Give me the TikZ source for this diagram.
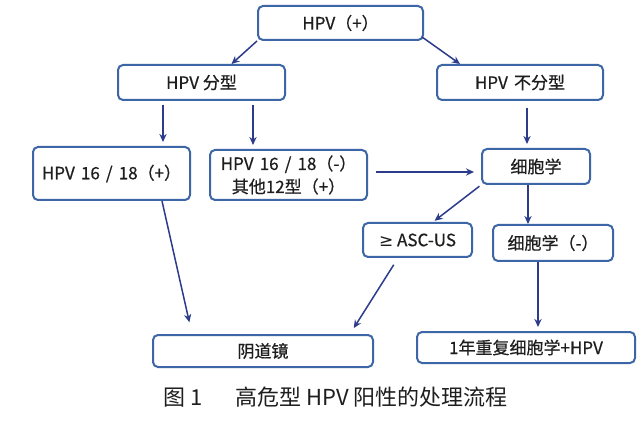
\documentclass[tikz,border=0pt]{standalone}
\usepackage{fontspec}
\setmainfont{Noto Sans CJK SC}
\newfontfamily\boxfont[FakeBold=0.6]{Noto Sans CJK SC}
\newfontfamily\mathsym{DejaVu Sans}
\usetikzlibrary{arrows.meta}
\definecolor{flowedge}{HTML}{3C66A6}
\definecolor{flowarrow}{HTML}{2C3B8A}
\definecolor{flowink}{HTML}{1E1E1E}
\newcommand{\stepnode}[5]{%
  \node[flowbox,minimum width=#3,minimum height=#4] (#1) at (#2) {#5};
}
\newcommand{\gap}{\hspace{.36em}}
\tikzset{
  flowbox/.style={draw=flowedge,line width=1pt,rounded corners=2.5pt,fill=white,
    text=flowink,inner sep=0pt,align=center,font=\boxfont\fontsize{8.5}{11.5}\selectfont},
  link/.style={draw=flowarrow,line width=.75pt,-{Stealth[length=4pt,width=3.6pt]}}
}

\begin{document}
\begin{tikzpicture}[x=.5pt,y=-.5pt]
        \useasboundingbox[fill=white] (0,0) rectangle (640,421);
        \stepnode{top}{340.5,23}{82.5pt}{17pt}{HPV（+）}
        \stepnode{typed}{201.5,82.5}{83.5pt}{17.5pt}{HPV 分型}
        \stepnode{untyped}{520,82.5}{83pt}{17.5pt}{HPV\gap 不分型}
        \stepnode{pos}{111.5,173.5}{78.5pt}{26.5pt}{HPV\gap 16\gap /\gap 18（+）}
        \stepnode{neg}{288.5,175}{78.5pt}{25pt}{HPV\gap 16\gap /\gap 18（-）\\其他12型（+）}
        \stepnode{cyto}{536,166.5}{54pt}{17.5pt}{细胞学}
        \stepnode{asc}{417.5,240}{54.5pt}{17pt}{{\mathsym ≥} ASC-US}
        \stepnode{cytoneg}{553,243}{60pt}{18pt}{细胞学（-）}
        \stepnode{colpo}{263,351}{110pt}{16pt}{阴道镜}
        \stepnode{repeat}{526,347.5}{109pt}{15.5pt}{1年重复细胞学+HPV}
        \node[font=\fontsize{11}{13}\selectfont,text=flowink] (caption) at (335.5,397)
          {图 1\hspace{1.5em}高危型 HPV 阳性的处理流程};
        % arrows between the steps
        \draw[link] (top.south west) -- ([xshift=15pt]typed.north);
        \draw[link] ([xshift=-1pt,yshift=2pt]top.south east) -- ([xshift=-30pt]untyped.north);
        \draw[link,shorten <=2pt,shorten >=2pt] ([xshift=-19.25pt]typed.south) -- ([xshift=25.75pt]pos.north);
        \draw[link,shorten <=2pt,shorten >=2pt] ([xshift=25.75pt]typed.south) -- ([xshift=-17.75pt]neg.north);
        \draw[link,shorten <=3.5pt,shorten >=2pt] ([xshift=3.5pt]untyped.south) -- ([xshift=-4.5pt]cyto.north);
        \draw[link,shorten <=4pt,shorten >=3.5pt] ([yshift=1.5pt]neg.east) -- ([yshift=-2.75pt]cyto.west);
        \draw[link,shorten <=1pt,shorten >=1pt] (cyto.south west) -- ([xshift=7.75pt]asc.north);
        \draw[link] ([xshift=-4pt]cyto.south) -- ([xshift=-12.5pt]cytoneg.north);
        \draw[link,shorten >=6pt] ([xshift=25.25pt]pos.south) -- ([xshift=-35.5pt]colpo.north);
        \draw[link,shorten <=4pt,shorten >=3.5pt] ([xshift=-9.75pt]asc.south) -- ([xshift=43.5pt]colpo.north);
        \draw[link,shorten >=2pt] ([xshift=-7.5pt]cytoneg.south) -- ([xshift=6pt]repeat.north);
      \end{tikzpicture}
\end{document}
